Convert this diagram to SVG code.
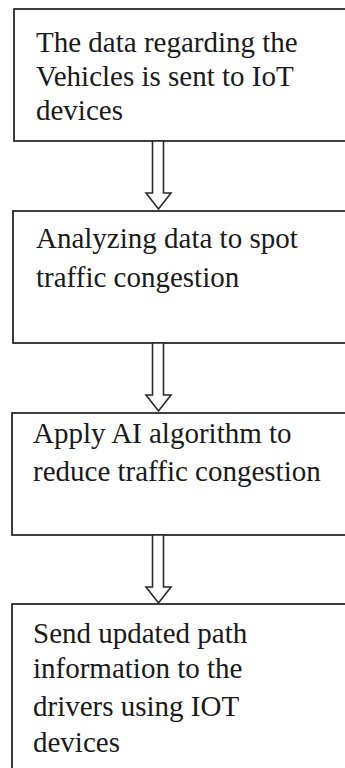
<svg xmlns="http://www.w3.org/2000/svg" width="345" height="768" viewBox="0 0 345 768">
  <style>
    .box { fill: #ffffff; stroke: #2a2a2a; stroke-width: 1.8; }
    .lbl { font-family: "Liberation Serif", "Times New Roman", serif; font-size: 29px; fill: #1a1a1a; }
    .arrow { fill: #ffffff; stroke: #2a2a2a; stroke-width: 1.6; stroke-linejoin: miter; }
  </style>
  <rect x="0" y="0" width="345" height="768" fill="#ffffff"/>

  <g id="node-collect">
    <rect class="box" x="14" y="9" width="345" height="132"/>
    <text class="lbl" x="36" y="52">The data regarding the</text>
    <text class="lbl" x="36" y="86">Vehicles is sent to IoT</text>
    <text class="lbl" x="36" y="120">devices</text>
  </g>

  <g id="node-analyze">
    <rect class="box" x="13" y="211" width="345" height="132"/>
    <text class="lbl" x="36" y="248">Analyzing data to spot</text>
    <text class="lbl" x="36" y="287">traffic congestion</text>
  </g>

  <g id="node-apply">
    <rect class="box" x="12" y="413" width="345" height="122"/>
    <text class="lbl" x="33" y="443">Apply AI algorithm to</text>
    <text class="lbl" x="33" y="481">reduce traffic congestion</text>
  </g>

  <g id="node-send">
    <rect class="box" x="12" y="604" width="345" height="180"/>
    <text class="lbl" x="33" y="643">Send updated path</text>
    <text class="lbl" x="33" y="678">information to the</text>
    <text class="lbl" x="33" y="716">drivers using IOT</text>
    <text class="lbl" x="33" y="752">devices</text>
  </g>

  <g id="connectors">
    <polygon class="arrow" points="152.5,141 163.5,141 163.5,193 171,193 158.5,209 146,193 152.5,193"/>
    <polygon class="arrow" points="152.5,343 163.5,343 163.5,395 171,395 158.5,411 146,395 152.5,395"/>
    <polygon class="arrow" points="152.5,535 163.5,535 163.5,587 171,587 158.5,603 146,587 152.5,587"/>
  </g>
</svg>
